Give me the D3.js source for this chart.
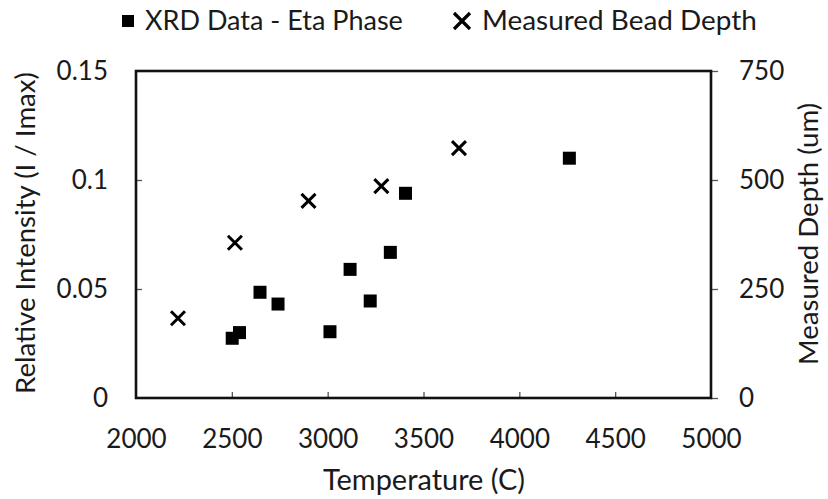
<!DOCTYPE html>
<html>
<head>
<meta charset="utf-8">
<script src="https://cdn.jsdelivr.net/npm/d3@7"></script>
<style>
  body { margin: 0; background: #fff; }
  text { font-family: Lato, "Open Sans", sans-serif; fill: #1a1a1a; }
</style>
</head>
<body>
<div class="canvas"></div>
<script>
// data
const xrdTemp = [2502, 2540, 2647, 2741, 3012, 3117, 3222, 3327, 3406, 4261];
const xrdIntensity = [0.0274, 0.0300, 0.0485, 0.0431, 0.0304, 0.0590, 0.0445, 0.0668, 0.0939, 0.110];
const beadTemp = [2219, 2516, 2900, 3280, 3685];
const beadDepth = [183, 356, 452, 486, 573];
const xTicks = [2000, 2500, 3000, 3500, 4000, 4500, 5000];
const yLeftTicks = [0, 0.05, 0.1, 0.15];
const yRightTicks = [0, 250, 500, 750];

const margin = { top: 71, right: 117, bottom: 101, left: 136 };
const width = 828, height = 499;
const graphWidth = width - margin.left - margin.right;
const graphHeight = height - margin.top - margin.bottom;

const svg = d3.select(".canvas").append("svg")
  .attr("width", width)
  .attr("height", height);

const graph = svg.append("g")
  .attr("transform", `translate(${margin.left}, ${margin.top})`);

// scale a text to a width
const fit = (sel, w) => {
  sel.attr("font-size", 20);
  const len = sel.node().getComputedTextLength();
  sel.attr("font-size", 20 * w / len);
  return sel;
};

// scales
const x = d3.scaleLinear().domain([2000, 5000]).range([0, graphWidth]);
const yL = d3.scaleLinear().domain([0, 0.15]).range([graphHeight, 0]);
const yR = d3.scaleLinear().domain([0, 750]).range([graphHeight, 0]);

// axes
const xAxis = d3.axisBottom(x).tickValues(xTicks).tickSizeInner(-6).tickSizeOuter(0)
  .tickFormat(d3.format("d"));
const yAxisL = d3.axisLeft(yL).tickValues(yLeftTicks).tickSizeInner(-6).tickSizeOuter(0).tickPadding(28)
  .tickFormat(d => String(d));
const yAxisR = d3.axisRight(yR).tickValues(yRightTicks).tickSizeInner(7).tickSizeOuter(0).tickPadding(21);

const gx = graph.append("g").attr("transform", `translate(0, ${graphHeight})`).call(xAxis);
const gl = graph.append("g").call(yAxisL);
const gr = graph.append("g").attr("transform", `translate(${graphWidth}, 0)`).call(yAxisR);

[gx, gl, gr].forEach(g => {
  g.select(".domain").remove();
  g.selectAll(".tick line").attr("stroke", "#555").attr("stroke-width", 1.3);
  g.selectAll(".tick text").attr("font-size", 26).attr("fill", "#1a1a1a");
});
gx.selectAll(".tick text").attr("y", 50).attr("dy", 0);
gx.selectAll(".tick line").filter(d => d === 2000 || d === 5000).remove();
gl.selectAll(".tick line").filter(d => d === 0 || d === 0.15).remove();

// plot frame
graph.append("rect")
  .attr("width", graphWidth)
  .attr("height", graphHeight)
  .attr("fill", "none")
  .attr("stroke", "#111")
  .attr("stroke-width", 2.6);

// squares - XRD data
const sq = 13;
graph.selectAll(".sq")
  .data(xrdTemp.map((t, i) => ({ t, v: xrdIntensity[i] })))
  .enter().append("rect")
  .attr("class", "sq")
  .attr("x", d => x(d.t) - sq / 2)
  .attr("y", d => yL(d.v) - sq / 2)
  .attr("width", sq)
  .attr("height", sq)
  .attr("fill", "#000");

// crosses - bead depth
const cr = 7;
const crossPath = `M${-cr},${-cr}L${cr},${cr}M${-cr},${cr}L${cr},${-cr}`;
graph.selectAll(".cross")
  .data(beadTemp.map((t, i) => ({ t, v: beadDepth[i] })))
  .enter().append("path")
  .attr("class", "cross")
  .attr("transform", d => `translate(${x(d.t)}, ${yR(d.v)})`)
  .attr("d", crossPath)
  .attr("stroke", "#000")
  .attr("stroke-width", 3)
  .attr("fill", "none");

// axis titles
fit(svg.append("text")
  .attr("x", 424)
  .attr("y", 490)
  .attr("text-anchor", "middle")
  .text("Temperature (C)"), 202);

const leftTitle = fit(svg.append("text")
  .attr("transform", "translate(35, 233) rotate(-90)")
  .attr("text-anchor", "middle")
  .text("Relative Intensity (I / Imax)"), 322);

svg.append("text")
  .attr("transform", "translate(818, 234) rotate(-90)")
  .attr("text-anchor", "middle")
  .attr("font-size", leftTitle.attr("font-size"))
  .text("Measured Depth (um)");

// legend
const legend = svg.append("g");
legend.append("rect")
  .attr("x", 122).attr("y", 15).attr("width", 12).attr("height", 12).attr("fill", "#000");
fit(legend.append("text")
  .attr("x", 145).attr("y", 30)
  .text("XRD Data - Eta Phase"), 258);
legend.append("path")
  .attr("transform", "translate(462, 21)")
  .attr("d", "M-8,-8L8,8M-8,8L8,-8")
  .attr("stroke", "#000").attr("stroke-width", 3.2).attr("fill", "none");
fit(legend.append("text")
  .attr("x", 482).attr("y", 30)
  .text("Measured Bead Depth"), 275);
</script>
</body>
</html>
